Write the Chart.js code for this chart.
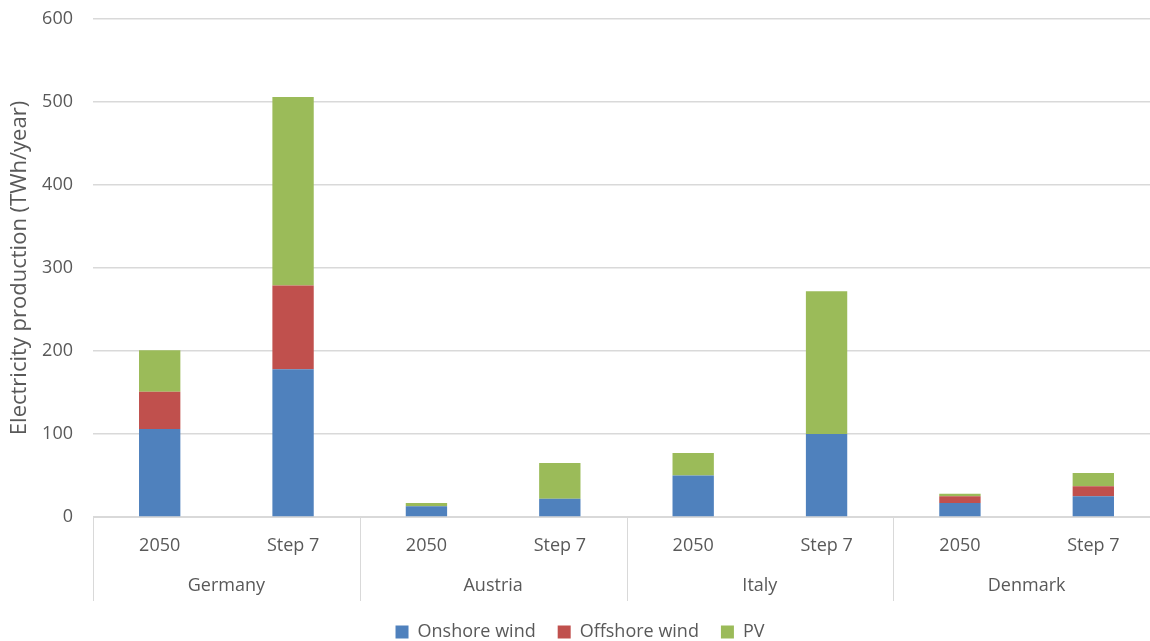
<!DOCTYPE html>
<html>
<head>
<meta charset="utf-8">
<script src="https://cdn.jsdelivr.net/npm/chart.js@4.4.1/dist/chart.umd.min.js"></script>
<style>
  html, body { margin: 0; padding: 0; overflow: hidden; background: #fff; }
  #wrap { position: absolute; left: 0; top: 0; }
</style>
</head>
<body>
<div id="wrap"><canvas id="myChart" width="1160" height="641"></canvas></div>
<script>
var countries = ["Germany", "Austria", "Italy", "Denmark"];
var scenarios = ["2050", "Step 7", "2050", "Step 7", "2050", "Step 7", "2050", "Step 7"];

var onshore  = [106, 178, 13, 22, 50, 100, 17, 25];
var offshore = [45, 101, 0, 0, 0, 0, 8, 12];
var pv       = [50, 227, 4, 43, 27, 172, 3, 16];

var yTicks = [0, 100, 200, 300, 400, 500, 600];

var textColor = "#595959";
var lineColor = "#d9d9d9";
var fontFamily = "'Open Sans', 'Noto Sans', sans-serif";

// lines between the country groups, under the plot
var groupLines = {
  id: "groupLines",
  afterDraw: function(chart) {
    var g = chart.scales.group;
    var ctx = chart.ctx;
    var step = g.getPixelForValue(1) - g.getPixelForValue(0);
    ctx.save();
    ctx.strokeStyle = lineColor;
    ctx.lineWidth = 1;
    for (var i = 0; i <= countries.length; i++) {
      var x = Math.round(g.getPixelForValue(0) - step / 2 + i * step) + 0.5;
      ctx.beginPath();
      ctx.moveTo(x, chart.chartArea.bottom);
      ctx.lineTo(x, g.bottom);
      ctx.stroke();
    }
    ctx.restore();
  }
};

document.addEventListener('DOMContentLoaded', function() {
  var ctx = document.getElementById("myChart").getContext('2d');
  var myChart = new Chart(ctx, {
    type: 'bar',
    data: {
      labels: scenarios,
      datasets: [
        { label: "Onshore wind", data: onshore, backgroundColor: "#4F81BD" },
        { label: "Offshore wind", data: offshore, backgroundColor: "#C0504D" },
        { label: "PV", data: pv, backgroundColor: "#9BBB59" }
      ]
    },
    options: {
      responsive: false,
      animation: false,
      layout: { padding: { top: 19, left: 0, right: 0, bottom: -10 } },
      datasets: { bar: { categoryPercentage: 1, barPercentage: 0.31 } },
      plugins: {
        tooltip: { enabled: false },
        legend: {
          position: 'bottom',
          labels: {
            color: textColor,
            font: { family: fontFamily, size: 18 },
            boxWidth: 13,
            boxHeight: 13,
            padding: 22
          }
        }
      },
      scales: {
        x: {
          stacked: true,
          grid: { display: false },
          border: { display: true, color: lineColor, width: 1 },
          ticks: { color: textColor, font: { family: fontFamily, size: 18 }, padding: 10 },
          afterFit: function(s) { s.height = 42; }
        },
        group: {
          type: 'category',
          labels: countries,
          position: 'bottom',
          offset: true,
          grid: { display: false },
          border: { display: false },
          ticks: { color: textColor, font: { family: fontFamily, size: 18 }, padding: 8 },
          afterFit: function(s) { s.height = 42; }
        },
        y: {
          stacked: true,
          min: 0,
          max: 600,
          afterBuildTicks: function(s) { s.ticks = yTicks.map(function(v) { return { value: v }; }); },
          grid: { color: lineColor, lineWidth: 1.5, drawTicks: false },
          border: { display: false },
          ticks: { color: textColor, font: { family: fontFamily, size: 18 }, padding: 20 },
          title: {
            display: true,
            text: "Electricity production (TWh/year)",
            color: textColor,
            font: { family: fontFamily, size: 22 },
            padding: { top: 7, bottom: 4 }
          },
          afterFit: function(s) { s.width = 93; s.paddingTop = 0; s.paddingBottom = 0; }
        }
      }
    },
    plugins: [groupLines]
  });
});
</script>
</body>
</html>
